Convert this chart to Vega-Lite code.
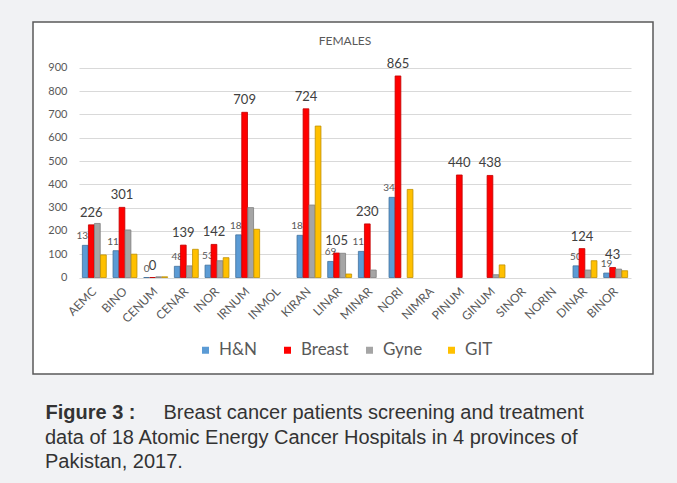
{
  "$schema": "https://vega.github.io/schema/vega-lite/v6.json",
  "width": 620,
  "height": 352,
  "autosize": {"type": "none"},
  "padding": {"left": 33, "top": 22, "right": 24, "bottom": 109},
  "background": "#f1f2f4",
  "config": {
    "view": {"fill": "white", "stroke": "#595959", "strokeWidth": 1.5},
    "font": "Lato"
  },
  "title": {
    "text": ["data of 18 Atomic Energy Cancer Hospitals in 4 provinces of", "Pakistan, 2017."],
    "orient": "bottom",
    "anchor": "start",
    "frame": "group",
    "offset": 22,
    "dx": 12,
    "baseline": "alphabetic",
    "font": "Liberation Sans",
    "fontSize": 20,
    "fontWeight": "normal",
    "color": "#333333",
    "lineHeight": 24
  },
  "data": {
    "values": [
      {"hospital": "AEMC", "type": "H&N", "value": 138},
      {"hospital": "AEMC", "type": "Breast", "value": 226},
      {"hospital": "AEMC", "type": "Gyne", "value": 232},
      {"hospital": "AEMC", "type": "GIT", "value": 97},
      {"hospital": "BINO", "type": "H&N", "value": 115},
      {"hospital": "BINO", "type": "Breast", "value": 301},
      {"hospital": "BINO", "type": "Gyne", "value": 204},
      {"hospital": "BINO", "type": "GIT", "value": 100},
      {"hospital": "CENUM", "type": "H&N", "value": 0},
      {"hospital": "CENUM", "type": "Breast", "value": 0},
      {"hospital": "CENUM", "type": "Gyne", "value": 3},
      {"hospital": "CENUM", "type": "GIT", "value": 3},
      {"hospital": "CENAR", "type": "H&N", "value": 48},
      {"hospital": "CENAR", "type": "Breast", "value": 139},
      {"hospital": "CENAR", "type": "Gyne", "value": 50},
      {"hospital": "CENAR", "type": "GIT", "value": 121},
      {"hospital": "INOR", "type": "H&N", "value": 53},
      {"hospital": "INOR", "type": "Breast", "value": 142},
      {"hospital": "INOR", "type": "Gyne", "value": 72},
      {"hospital": "INOR", "type": "GIT", "value": 85},
      {"hospital": "IRNUM", "type": "H&N", "value": 183},
      {"hospital": "IRNUM", "type": "Breast", "value": 709},
      {"hospital": "IRNUM", "type": "Gyne", "value": 300},
      {"hospital": "IRNUM", "type": "GIT", "value": 207},
      {"hospital": "KIRAN", "type": "H&N", "value": 181},
      {"hospital": "KIRAN", "type": "Breast", "value": 724},
      {"hospital": "KIRAN", "type": "Gyne", "value": 311},
      {"hospital": "KIRAN", "type": "GIT", "value": 650},
      {"hospital": "LINAR", "type": "H&N", "value": 69},
      {"hospital": "LINAR", "type": "Breast", "value": 105},
      {"hospital": "LINAR", "type": "Gyne", "value": 104},
      {"hospital": "LINAR", "type": "GIT", "value": 15},
      {"hospital": "MINAR", "type": "H&N", "value": 112},
      {"hospital": "MINAR", "type": "Breast", "value": 230},
      {"hospital": "MINAR", "type": "Gyne", "value": 32},
      {"hospital": "NORI", "type": "H&N", "value": 344},
      {"hospital": "NORI", "type": "Breast", "value": 865},
      {"hospital": "NORI", "type": "GIT", "value": 378},
      {"hospital": "PINUM", "type": "Breast", "value": 440},
      {"hospital": "GINUM", "type": "Breast", "value": 438},
      {"hospital": "GINUM", "type": "Gyne", "value": 12},
      {"hospital": "GINUM", "type": "GIT", "value": 54},
      {"hospital": "DINAR", "type": "H&N", "value": 50},
      {"hospital": "DINAR", "type": "Breast", "value": 124},
      {"hospital": "DINAR", "type": "Gyne", "value": 32},
      {"hospital": "DINAR", "type": "GIT", "value": 72},
      {"hospital": "BINOR", "type": "H&N", "value": 19},
      {"hospital": "BINOR", "type": "Breast", "value": 43},
      {"hospital": "BINOR", "type": "Gyne", "value": 36},
      {"hospital": "BINOR", "type": "GIT", "value": 29}
    ]
  },
  "encoding": {
    "x": {"field": "hospital", "type": "nominal",
      "scale": {"domain": ["AEMC","BINO","CENUM","CENAR","INOR","IRNUM","INMOL","KIRAN","LINAR","MINAR","NORI","NIMRA","PINUM","GINUM","SINOR","NORIN","DINAR","BINOR"], "range": [46, 598], "paddingInner": 0.22, "paddingOuter": 0.11},
      "axis": {
        "orient": "bottom", "offset": -90, "domain": false, "ticks": false,
        "labelAngle": -45, "labelAlign": "right", "labelBaseline": "middle", "labelPadding": 5,
        "labelFont": "Lato", "labelFontSize": 12, "labelColor": "#595959",
        "title": "Figure 3 :", "titleX": 12, "titleY": 134, "titleAlign": "left", "titleBaseline": "alphabetic",
        "titleFont": "Liberation Sans", "titleFontSize": 20, "titleFontWeight": "bold", "titleColor": "#333333"
      }},
    "xOffset": {"field": "type", "type": "nominal", "scale": {"domain": ["H&N", "Breast", "Gyne", "GIT"], "paddingInner": 0.05}},
    "y": {"field": "value", "type": "quantitative",
      "scale": {"domain": [0, 900], "range": [255.5, 45.8], "nice": false},
      "axis": {
        "orient": "left", "offset": -34, "domain": false, "ticks": false, "tickSize": 0, "labelPadding": 0,
        "labelFont": "Lato", "labelFontSize": 11, "labelColor": "#595959", "labelOverlap": false,
        "values": [0, 100, 200, 300, 400, 500, 600, 700, 800, 900],
        "grid": true, "gridColor": "#d9d9d9", "gridWidth": 1,
        "title": "Breast cancer patients screening and treatment", "titleAngle": 0, "titleX": 96, "titleY": 396,
        "titleAlign": "left", "titleBaseline": "alphabetic",
        "titleFont": "Liberation Sans", "titleFontSize": 20, "titleFontWeight": "normal", "titleColor": "#333333"
      }}
  },
  "layer": [
    {
      "transform": [{"filter": "datum.type === 'H&N'"}],
      "mark": {"type": "text", "baseline": "alphabetic", "dy": -6, "fontSize": 10, "color": "#595959", "font": "Lato"},
      "encoding": {
        "text": {"field": "value", "type": "quantitative"}
      }
    },
    {
      "mark": {"type": "bar", "strokeWidth": 0.8},
      "encoding": {
        "color": {"field": "type", "type": "nominal",
          "scale": {"domain": ["H&N", "Breast", "Gyne", "GIT"], "range": ["#5b9bd5", "#ff0000", "#a5a5a5", "#ffc000"]},
          "legend": {
            "orient": "none", "legendX": 164, "legendY": 13.5, "direction": "horizontal",
            "title": "FEMALES", "titleOrient": "top", "titleAnchor": "middle", "titlePadding": 294,
            "titleFont": "Lato", "titleFontSize": 12, "titleFontWeight": "normal", "titleColor": "#595959",
            "labelFont": "Lato", "labelFontSize": 17, "labelColor": "#595959",
            "symbolType": "square", "symbolSize": 49, "symbolStrokeWidth": 0, "labelOffset": 5,
            "columnPadding": 12, "gridAlign": "all", "padding": 0
          }},
        "stroke": {"field": "type", "type": "nominal",
          "scale": {"domain": ["H&N", "Breast", "Gyne", "GIT"], "range": ["#41719c", "#c00000", "#7f7f7f", "#bf9000"]},
          "legend": null}
      }
    },
    {
      "transform": [{"filter": "datum.type === 'Breast'"}],
      "mark": {"type": "text", "baseline": "alphabetic", "dy": -8, "fontSize": 13, "color": "#404040", "font": "Lato"},
      "encoding": {
        "text": {"field": "value", "type": "quantitative"}
      }
    }
  ]
}
